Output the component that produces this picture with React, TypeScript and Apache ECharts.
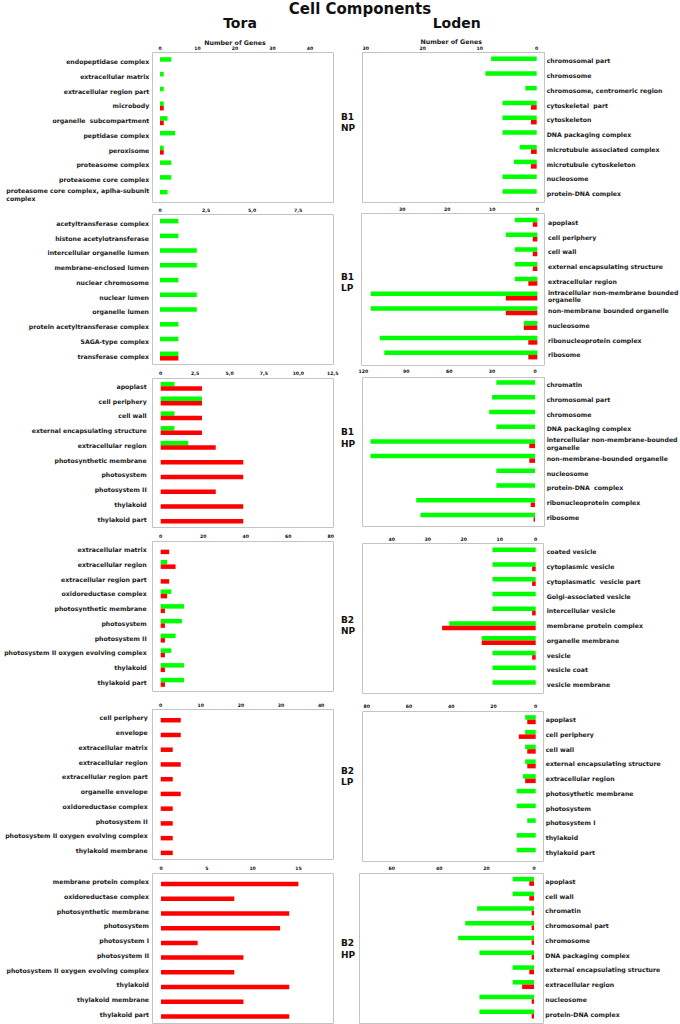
import React, { useEffect, useRef } from 'react';
import * as echarts from 'echarts';

// ---------- DATA ----------
const toraB1NPCategories = ['endopeptidase complex', 'extracellular matrix', 'extracellular region part', 'microbody', 'organelle  subcompartment', 'peptidase complex', 'peroxisome', 'proteasome complex', 'proteasome core complex', 'proteasome core complex, aplha-subunit\ncomplex'];
const toraB1NPGreen = [3, 1, 1, 1, 2, 4, 1, 3, 3, 2];
const toraB1NPRed = [0, 0, 0, 1, 1, 0, 1, 0, 0, 0];

const lodenB1NPCategories = ['chromosomal part', 'chromosome', 'chromosome, centromeric region', 'cytoskeletal  part', 'cytoskeleton', 'DNA packaging complex', 'microtubule associated complex', 'microtubule cytoskeleton', 'nucleosome', 'protein-DNA complex'];
const lodenB1NPGreen = [8, 9, 2, 6, 6, 6, 3, 4, 6, 6];
const lodenB1NPRed = [0, 0, 0, 1, 1, 0, 1, 1, 0, 0];

const toraB1LPCategories = ['acetyltransferase complex', 'histone acetylotransferase', 'intercellular organelle lumen', 'membrane-enclosed lumen', 'nuclear chromosome', 'nuclear lumen', 'organelle lumen', 'protein acetyltransferase complex', 'SAGA-type complex', 'transferase complex'];
const toraB1LPGreen = [1, 1, 2, 2, 1, 2, 2, 1, 1, 1];
const toraB1LPRed = [0, 0, 0, 0, 0, 0, 0, 0, 0, 1];

const lodenB1LPCategories = ['apoplast', 'cell periphery', 'cell wall', 'external encapsulating structure', 'extracellular region', 'intracellular non-membrane bounded\norganelle', 'non-membrane bounded organelle', 'nucleosome', 'ribonucleoprotein complex', 'ribosome'];
const lodenB1LPGreen = [5, 7, 5, 5, 5, 37, 37, 3, 35, 34];
const lodenB1LPRed = [1, 1, 1, 1, 2, 7, 7, 3, 2, 2];

const toraB1HPCategories = ['apoplast', 'cell periphery', 'cell wall', 'external encapsulating structure', 'extracellular region', 'photosynthetic membrane', 'photosystem', 'photosystem II', 'thylakoid', 'thylakoid part'];
const toraB1HPGreen = [1, 3, 1, 1, 2, 0, 0, 0, 0, 0];
const toraB1HPRed = [3, 3, 3, 3, 4, 6, 6, 4, 6, 6];

const lodenB1HPCategories = ['chromatin', 'chromosomal part', 'chromosome', 'DNA packaging complex', 'intercellular non-membrane-bounded\norganelle', 'non-membrane-bounded organelle', 'nucleosome', 'protein-DNA  complex', 'ribonucleoprotein complex', 'ribosome'];
const lodenB1HPGreen = [27, 30, 32, 27, 115, 115, 27, 27, 83, 80];
const lodenB1HPRed = [0, 0, 0, 0, 4, 4, 0, 0, 3, 1];

const toraB2NPCategories = ['extracellular matrix', 'extracellular region', 'extracellular region part', 'oxidoreductase complex', 'photosynthetic membrane', 'photosystem', 'photosystem II', 'photosystem II oxygen evolving complex', 'thylakoid', 'thylakoid part'];
const toraB2NPGreen = [0, 3, 0, 5, 11, 10, 7, 5, 11, 11];
const toraB2NPRed = [4, 7, 4, 3, 2, 2, 2, 2, 2, 2];

const lodenB2NPCategories = ['coated vesicle', 'cytoplasmic vesicle', 'cytoplasmatic  vesicle part', 'Golgi-associated vesicle', 'intercellular vesicle', 'membrane protein complex', 'organelle membrane', 'vesicle', 'vesicle coat', 'vesicle membrane'];
const lodenB2NPGreen = [12, 12, 12, 12, 12, 24, 15, 12, 12, 12];
const lodenB2NPRed = [0, 1, 1, 0, 1, 26, 15, 1, 0, 0];

const toraB2LPCategories = ['cell periphery', 'envelope', 'extracellular matrix', 'extracellular region', 'extracellular region part', 'organelle envelope', 'oxidoreductase complex', 'photosystem II', 'photosystem II oxygen evolving complex', 'thylakoid membrane'];
const toraB2LPGreen = [0, 0, 0, 0, 0, 0, 0, 0, 0, 0];
const toraB2LPRed = [5, 5, 3, 5, 3, 5, 3, 3, 3, 3];

const lodenB2LPCategories = ['apoplast', 'cell periphery', 'cell wall', 'external encapsulating structure', 'extracellular region', 'photosythetic membrane', 'photosystem', 'photosystem I', 'thylakoid', 'thylakoid part'];
const lodenB2LPGreen = [5, 5, 5, 5, 6, 9, 9, 4, 9, 9];
const lodenB2LPRed = [4, 8, 4, 4, 5, 0, 0, 0, 0, 0];

const toraB2HPCategories = ['membrane protein complex', 'oxidoreductase complex', 'photosynthetic membrane', 'photosystem', 'photosystem I', 'photosystem II', 'photosystem II oxygen evolving complex', 'thylakoid', 'thylakoid membrane', 'thylakoid part'];
const toraB2HPGreen = [0, 0, 0, 0, 0, 0, 0, 0, 0, 0];
const toraB2HPRed = [17, 8, 14, 13, 4, 9, 8, 14, 9, 14];

const lodenB2HPCategories = ['apoplast', 'cell wall', 'chromatin', 'chromosomal part', 'chromosome', 'DNA packaging complex', 'external encapsulating structure', 'extracellular region', 'nucleosome', 'protein-DNA complex'];
const lodenB2HPGreen = [9, 9, 24, 29, 32, 23, 9, 9, 23, 23];
const lodenB2HPRed = [2, 2, 1, 1, 1, 1, 2, 5, 1, 1];

const rowLabels = ['B1\nNP', 'B1\nLP', 'B1\nHP', 'B2\nNP', 'B2\nLP', 'B2\nHP'];
const columnTitles = ['Tora', 'Loden'];
const mainTitle = 'Cell Components';
const axisTitle = 'Number of Genes';

// ---------- COMPONENT ----------
const FONT = '"DejaVu Sans", Verdana, sans-serif';
const GREEN = '#00ff00';
const RED = '#ff0000';

export default function App() {
  const ref = useRef<HTMLDivElement>(null);

  useEffect(() => {
    if (!ref.current) return;
    const chart = echarts.init(ref.current, undefined, { renderer: 'svg' });

    const H = 147.4;
    const panels = [
      { cats: toraB1NPCategories, green: toraB1NPGreen, red: toraB1NPRed, side: 'L', left: 160, width: 150, top: 54.35, max: 40, interval: 10, lm: 10.7, comma: false, box: [152, 52, 181, 150] },
      { cats: lodenB1NPCategories, green: lodenB1NPGreen, red: lodenB1NPRed, side: 'R', left: 365.7, width: 171, top: 53.6, max: 30, interval: 10, lm: 10, comma: false, box: [362, 52, 182, 150] },
      { cats: toraB1LPCategories, green: toraB1LPGreen, red: toraB1LPRed, side: 'L', left: 160, width: 138, top: 216, max: 7.5, interval: 2.5, lm: 11, comma: true, box: [152, 214, 181, 150] },
      { cats: lodenB1LPCategories, green: lodenB1LPGreen, red: lodenB1LPRed, side: 'R', left: 361.8, width: 175.5, top: 214.9, max: 39, interval: 10, lm: 10.7, comma: false, box: [361, 213, 183, 152] },
      { cats: toraB1HPCategories, green: toraB1HPGreen, red: toraB1HPRed, side: 'L', left: 160.7, width: 172, top: 379, max: 12.5, interval: 2.5, lm: 14, comma: true, box: [152, 378, 181, 149] },
      { cats: lodenB1HPCategories, green: lodenB1HPGreen, red: lodenB1HPRed, side: 'R', left: 363.3, width: 171.7, top: 377.3, max: 120, interval: 30, lm: 11.7, comma: false, box: [362, 377, 182, 149] },
      { cats: toraB2NPCategories, green: toraB2NPGreen, red: toraB2NPRed, side: 'L', left: 160.7, width: 170, top: 542.3, max: 80, interval: 20, lm: 14, comma: false, box: [152, 541, 181, 150] },
      { cats: lodenB2NPCategories, green: lodenB2NPGreen, red: lodenB2NPRed, side: 'R', left: 391.7, width: 144, top: 544.6, max: 40, interval: 10, lm: 11, comma: false, box: [362, 543, 181, 150] },
      { cats: toraB2LPCategories, green: toraB2LPGreen, red: toraB2LPRed, side: 'L', left: 160.7, width: 160.4, top: 710.6, max: 40, interval: 10, lm: 13, comma: false, box: [152, 709, 181, 150] },
      { cats: lodenB2LPCategories, green: lodenB2LPGreen, red: lodenB2LPRed, side: 'R', left: 366.7, width: 169, top: 712.3, max: 80, interval: 20, lm: 10, comma: false, box: [362, 711, 181, 150] },
      { cats: toraB2HPCategories, green: toraB2HPGreen, red: toraB2HPRed, side: 'L', left: 161, width: 137.4, top: 874.3, max: 15, interval: 5, lm: 12, comma: false, box: [152, 873, 181, 150] },
      { cats: lodenB2HPCategories, green: lodenB2HPGreen, red: lodenB2HPRed, side: 'R', left: 391.7, width: 142.3, top: 874, max: 60, interval: 20, lm: 11.3, comma: false, box: [359, 873, 184, 150] },
    ];
    const rowCenters = [122.5, 282.5, 438, 625.5, 776.5, 949];

    const catLabelStyle = { fontSize: 6.2, fontWeight: 'bold' as const, fontFamily: FONT, color: '#1a1a1a' };

    const tickFormatter = (p: any) => (v: number) => {
      const k = v / p.interval;
      if (Math.abs(k - Math.round(k)) > 1e-6) return '';
      if (v === 0) return '0';
      return p.comma ? v.toFixed(1).replace('.', ',') : String(v);
    };

    const option: any = {
      animation: false,
      backgroundColor: '#ffffff',
      grid: panels.map((p) => ({
        left: p.left, top: p.top, width: p.width, height: H,
        containLabel: false, outerBoundsMode: 'none', show: false,
      })),
      xAxis: panels.map((p, i) => ({
        type: 'value', gridIndex: i, min: 0, max: p.max, interval: p.interval,
        position: 'top', inverse: p.side === 'R',
        axisLine: { show: false }, axisTick: { show: false }, splitLine: { show: false },
        axisLabel: {
          fontSize: 4.6, fontWeight: 'bold', fontFamily: FONT, color: '#111', margin: 3,
          formatter: tickFormatter(p),
        },
        name: i < 2 ? axisTitle : '',
        nameLocation: 'middle', nameGap: 9,
        nameTextStyle: { fontSize: 6.3, fontWeight: 'bold', fontFamily: FONT, color: '#1a1a1a' },
      })),
      yAxis: panels.map((p, i) => ({
        type: 'category', gridIndex: i, data: p.cats, inverse: true,
        position: p.side === 'L' ? 'left' : 'right',
        axisLine: { show: false }, axisTick: { show: false }, splitLine: { show: false },
        axisLabel: {
          interval: 0, margin: p.lm, lineHeight: 7.5, ...catLabelStyle,
          formatter: (v: string) => (v.indexOf('\n') >= 0 ? v.split('\n').map((s) => `{w|${s}}`).join('\n') : v),
          rich: { w: { ...catLabelStyle, align: 'left', lineHeight: 7.5 } },
        },
      })),
      series: panels.flatMap((p, i) => [
        { type: 'bar', name: 'green', xAxisIndex: i, yAxisIndex: i, data: p.green, barWidth: 4.5, barGap: '0%', itemStyle: { color: GREEN }, silent: true },
        { type: 'bar', name: 'red', xAxisIndex: i, yAxisIndex: i, data: p.red, barWidth: 4.5, barGap: '0%', itemStyle: { color: RED }, silent: true },
      ]),
      graphic: [
        ...panels.map((p) => ({
          type: 'rect', silent: true, z: 0,
          shape: { x: p.box[0] + 0.5, y: p.box[1] + 0.5, width: p.box[2], height: p.box[3] },
          style: { fill: '#ffffff', stroke: '#c4c4c4', lineWidth: 1 },
        })),
        { type: 'text', x: 360, y: 9, style: { text: mainTitle, font: `bold 15px ${FONT}`, fill: '#111', textAlign: 'center', textVerticalAlign: 'middle' } },
        { type: 'text', x: 240, y: 23, style: { text: columnTitles[0], font: `bold 14px ${FONT}`, fill: '#111', textAlign: 'center', textVerticalAlign: 'middle' } },
        { type: 'text', x: 456.7, y: 23, style: { text: columnTitles[1], font: `bold 14px ${FONT}`, fill: '#111', textAlign: 'center', textVerticalAlign: 'middle' } },
        ...rowLabels.map((t, k) => ({
          type: 'text', x: 341, y: rowCenters[k],
          style: { text: t, font: `bold 9px ${FONT}`, fill: '#111', textAlign: 'left', textVerticalAlign: 'middle', lineHeight: 11.5 },
        })),
      ],
    };

    chart.setOption(option);
    return () => chart.dispose();
  }, []);

  return (
    <div
      ref={ref}
      style={{ position: 'absolute', left: 0, top: 0, width: 680, height: 1024, background: '#fff' }}
    />
  );
}
